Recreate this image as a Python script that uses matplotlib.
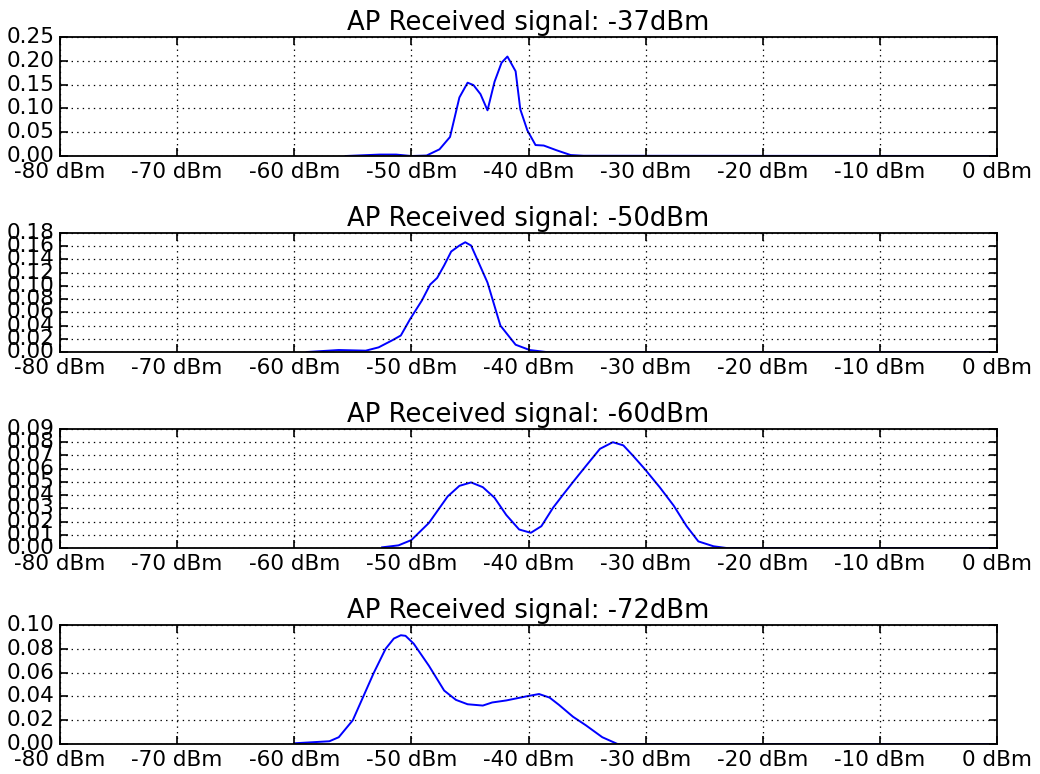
import matplotlib
matplotlib.use("Agg")
import matplotlib.pyplot as plt

plt.style.use("classic")

titles = ["AP Received signal: -37dBm", "AP Received signal: -50dBm",
          "AP Received signal: -60dBm", "AP Received signal: -72dBm"]

x_ticks = [-80, -70, -60, -50, -40, -30, -20, -10, 0]
x_tick_labels = ["-80 dBm", "-70 dBm", "-60 dBm", "-50 dBm", "-40 dBm",
                 "-30 dBm", "-20 dBm", "-10 dBm", "0 dBm"]

# Series 1 (-37 dBm)
x1 = [-55.6, -52.7, -51.3, -50.0, -48.7, -47.6, -46.7, -45.9, -45.2, -44.7,
      -44.1, -43.5, -42.9, -42.3, -41.8, -41.1, -40.7, -40.1, -39.4, -38.7,
      -37.6, -36.4, -35.3, 0.0]
y1 = [0.0, 0.003, 0.003, 0.0, 0.001, 0.014, 0.040, 0.123, 0.154, 0.149,
      0.130, 0.096, 0.156, 0.196, 0.209, 0.178, 0.098, 0.054, 0.023, 0.022,
      0.012, 0.002, 0.0005, 0.0]

# Series 2 (-50 dBm)
x2 = [-58.9, -56.2, -53.9, -52.8, -51.6, -50.9, -50.1, -49.1, -48.4, -47.8,
      -47.2, -46.6, -45.9, -45.4, -44.9, -44.4, -43.5, -42.4, -41.1, -39.9,
      -38.5, 0.0]
y2 = [0.0, 0.003, 0.002, 0.007, 0.018, 0.025, 0.050, 0.078, 0.102, 0.112,
      0.131, 0.152, 0.161, 0.166, 0.161, 0.141, 0.105, 0.040, 0.011, 0.003,
      0.0, 0.0]

# Series 3 (-60 dBm)
x3 = [-52.5, -51.1, -50.0, -48.5, -46.9, -45.9, -44.9, -43.9, -42.9, -41.9,
      -40.8, -39.8, -38.9, -37.9, -36.9, -36.1, -35.1, -33.9, -32.8, -31.9,
      -31.1, -30.1, -28.8, -27.6, -26.5, -25.5, -24.2, -23.1, 0.0]
y3 = [0.0005, 0.002, 0.006, 0.019, 0.039, 0.047, 0.0496, 0.046, 0.038, 0.025,
      0.014, 0.0115, 0.0165, 0.0305, 0.042, 0.051, 0.062, 0.075, 0.080, 0.0776,
      0.070, 0.060, 0.046, 0.032, 0.0165, 0.005, 0.0013, 0.0, 0.0]

# Series 4 (-72 dBm)
x4 = [-60.0, -57.0, -56.2, -55.0, -54.1, -53.2, -52.2, -51.5, -50.9, -50.5,
      -49.8, -48.5, -47.2, -46.2, -45.2, -43.9, -43.1, -41.9, -40.2, -39.1,
      -38.2, -37.4, -36.2, -35.1, -33.7, -32.4, 0.0]
y4 = [0.0006, 0.0023, 0.0057, 0.020, 0.040, 0.060, 0.080, 0.0886, 0.0914, 0.0909,
      0.0843, 0.0657, 0.0449, 0.0371, 0.0334, 0.0323, 0.0349, 0.0366, 0.040, 0.042,
      0.039, 0.0329, 0.0229, 0.0157, 0.0057, 0.0, 0.0]

series_x = [x1, x2, x3, x4]
series_y = [y1, y2, y3, y4]

y_tick_sets = [
    [0.00, 0.05, 0.10, 0.15, 0.20, 0.25],
    [0.00, 0.02, 0.04, 0.06, 0.08, 0.10, 0.12, 0.14, 0.16, 0.18],
    [0.00, 0.01, 0.02, 0.03, 0.04, 0.05, 0.06, 0.07, 0.08, 0.09],
    [0.00, 0.02, 0.04, 0.06, 0.08, 0.10],
]

fig = plt.figure(figsize=(10.4, 7.74), dpi=100, facecolor="white")

left = 60 / 1040
width = 937 / 1040
height = 119 / 774
tops = [37, 233, 429, 625]

for i in range(4):
    bottom = 1 - (tops[i] + 119) / 774
    ax = fig.add_axes([left, bottom, width, height])
    ax.set_facecolor("white")
    ax.plot(series_x[i], series_y[i], color="#0000ff", lw=1.4)
    ax.set_xlim(-80, 0)
    yt = y_tick_sets[i]
    ax.set_ylim(yt[0], yt[-1])
    ax.set_xticks(x_ticks)
    ax.set_xticklabels(x_tick_labels)
    ax.set_yticks(yt)
    ax.set_yticklabels(["%.2f" % v for v in yt])
    ax.tick_params(labelsize=15.5, direction="in", length=5.5, width=1.2,
                   top=True, right=True, pad=4)
    ax.grid(True, linestyle=":", color="black", linewidth=0.9)
    for s in ax.spines.values():
        s.set_linewidth(1.3)
    ax.set_title(titles[i], fontsize=18.6, pad=5)

fig.savefig("out.png", dpi=100, facecolor="white")
